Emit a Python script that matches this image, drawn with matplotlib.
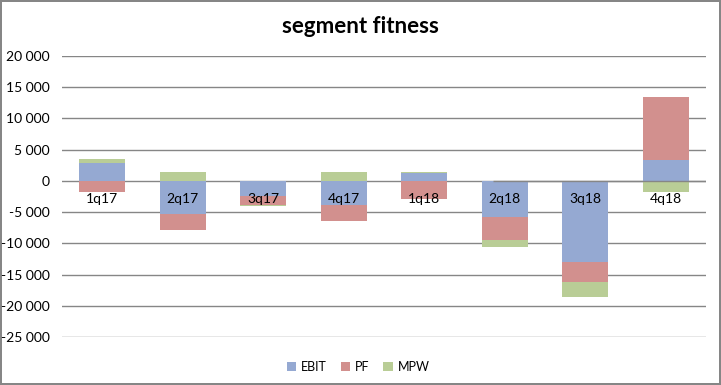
import numpy as np
import matplotlib
matplotlib.use("Agg")
import matplotlib.pyplot as plt
from matplotlib.ticker import FuncFormatter

plt.rcParams['font.family'] = ['Lato', 'DejaVu Sans']
plt.rcParams['axes.unicode_minus'] = False

quarters = ["1q17", "2q17", "3q17", "4q17", "1q18", "2q18", "3q18", "4q18"]
ebit = [2800, -5250, -2400, -3900, 1200, -5800, -13000, 3300]
pf = [-1700, -2600, -1500, -2500, -2950, -3650, -3250, 10150]
mpw = [650, 1350, -150, 1350, 300, -1100, -2350, -1700]

series = [("EBIT", ebit, "#95A9D2"), ("PF", pf, "#D2908E"), ("MPW", mpw, "#B9CD96")]

fig = plt.figure(figsize=(7.21, 3.85), dpi=100)
fig.patch.set_edgecolor("#868686")
fig.patch.set_linewidth(1.5)
ax = fig.add_axes([0.086, 0.1247, 0.893, 0.7298])

x = np.arange(len(quarters))
pos_base = np.zeros(len(quarters))
neg_base = np.zeros(len(quarters))
for name, vals, col in series:
    v = np.array(vals, dtype=float)
    base = np.where(v >= 0, pos_base, neg_base)
    ax.bar(x, v, 0.57, bottom=base, color=col, label=name, zorder=2)
    pos_base += np.where(v >= 0, v, 0)
    neg_base += np.where(v < 0, v, 0)

# odd partial zero line, as in the source
ax.hlines(0, 4.85, 7.5, color="#868686", linewidth=1, zorder=3)

# category labels sit just under the zero line, on top of the bars
for xi, q in zip(x, quarters):
    ax.annotate(q, (xi, 0), xytext=(0, -13), textcoords="offset points",
                ha="center", va="center", fontsize=10, zorder=4)

ax.set_xlim(-0.5, len(quarters) - 0.5)
ax.set_ylim(-25000, 20000)
ax.set_yticks(range(-25000, 20001, 5000))
ax.yaxis.set_major_formatter(FuncFormatter(lambda v, p: f"{int(v):,}".replace(",", " ")))
ax.grid(True, axis="y", color="#868686", linewidth=1, zorder=0)
ax.set_axisbelow(True)
for s in ax.spines.values():
    s.set_visible(False)
ax.tick_params(axis="y", length=0, pad=9, labelsize=10)
ax.set_xticks([])

fig.text(0.5, 0.93, "segment fitness", ha="center", va="center", fontsize=16, fontweight="bold")
ax.legend(loc="upper center", bbox_to_anchor=(0.46, -0.045), ncol=3, frameon=False,
          fontsize=9, handlelength=0.75, handleheight=0.75, columnspacing=1.1,
          handletextpad=0.4)

fig.savefig("out.png", dpi=100)
